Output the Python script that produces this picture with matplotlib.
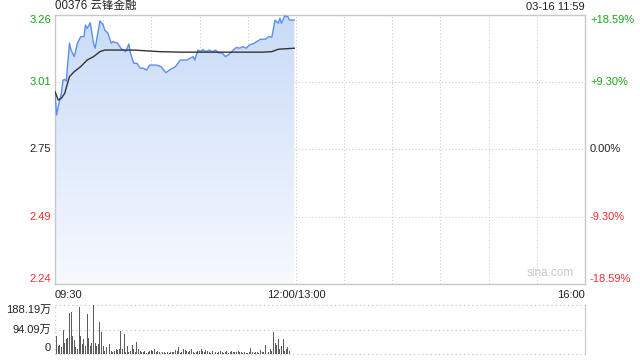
import matplotlib
matplotlib.use("Agg")
import matplotlib.pyplot as plt
import numpy as np
from matplotlib.colors import LinearSegmentedColormap

plt.rcParams['font.family'] = ['Liberation Sans', 'Noto Sans CJK SC', 'DejaVu Sans']

# ---------------- data ----------------
title = "00376 云锋金融"
stamp = "03-16 11:59"
prev_close = 2.75
pct_max = 0.1859

price_labels = ["2.24", "2.49", "2.75", "3.01", "3.26"]
pct_labels = ["-18.59%", "-9.30%", "0.00%", "+9.30%", "+18.59%"]

price_min = [0, 1, 2, 4, 5, 6, 7, 9, 10, 12, 14, 16, 18, 19, 20, 22, 24, 25, 27, 28,
             30, 31, 33, 35, 36, 39, 41, 44, 46, 47, 49, 51, 53, 55, 57, 59, 63, 66, 69, 72,
             75, 78, 82, 86, 87, 89, 91, 92, 94, 96, 98, 100, 102, 104, 106, 108, 111, 113, 115, 117,
             119, 121, 124, 128, 131, 133, 135, 137, 139, 140, 141, 143, 145, 146, 148, 149]
price_val = [2.970, 2.881, 2.913, 2.965, 3.014, 3.016, 3.010, 3.154, 3.128, 3.103, 3.154, 3.179, 3.179, 3.223, 3.210, 3.232, 3.154, 3.135, 3.204, 3.239,
             3.223, 3.204, 3.192, 3.154, 3.160, 3.154, 3.135, 3.122, 3.151, 3.116, 3.078, 3.078, 3.059, 3.059, 3.052, 3.071, 3.071, 3.065, 3.042, 3.055,
             3.065, 3.090, 3.090, 3.103, 3.090, 3.128, 3.122, 3.130, 3.122, 3.128, 3.122, 3.128, 3.116, 3.118, 3.103, 3.110, 3.128, 3.138, 3.135, 3.141,
             3.135, 3.147, 3.154, 3.169, 3.169, 3.179, 3.177, 3.242, 3.230, 3.249, 3.230, 3.257, 3.255, 3.242, 3.242, 3.242]

avg_min = [0, 2, 4, 6, 9, 12, 16, 20, 24, 28, 31, 42, 49, 65, 78, 103, 129, 135, 139, 149]
avg_val = [2.970, 2.938, 2.945, 2.963, 3.027, 3.046, 3.065, 3.090, 3.103, 3.122, 3.128, 3.128, 3.128, 3.122, 3.120, 3.120, 3.120, 3.122, 3.131, 3.135]

volume = [96.6, 69, 31, 35, 25, 91.6, 44, 59, 63, 157,
          160, 69, 54, 25, 21, 182, 69, 40, 56, 31,
          154, 63, 31, 44, 188, 44, 31, 38, 122, 84,
          31, 12.5, 27.6, 27.6, 38, 12.5, 6, 12.5, 21, 16,
          19, 88, 19, 75, 9, 31, 9, 12.5, 34, 19,
          6, 46, 19, 12.5, 9, 6, 10, 4, 6, 12.5,
          16, 10, 21, 6, 12.5, 6, 9, 6, 9, 4,
          6, 5, 8, 6,
          6, 15, 10, 25, 4, 6, 21, 16, 10, 6,
          12.5, 21, 6, 4, 6, 10, 12.5, 21, 12.5, 6,
          16, 12.5, 6, 5, 10, 15, 6, 4, 9, 12.5, 9,
          4, 6, 10, 3, 9, 12.5, 6, 9, 6, 12.5, 9,
          6, 4, 6, 4, 5, 6, 22.6, 6, 4, 6, 9, 4,
          16, 9, 6, 35, 9, 6, 19, 12.5, 84, 44,
          34, 56, 19, 31, 59, 12.5, 19, 27.6, 12.5]
vol_max = 188.19
vol_labels = ["0", "94.09万", "188.19万"]

x_labels = ["09:30", "12:00/13:00", "16:00"]
total_minutes = 330

# ---------------- figure ----------------
W, H = 640, 360
fig = plt.figure(figsize=(W / 100, H / 100), dpi=100)
fig.patch.set_facecolor('white')

def px_axes(l, t, r, b):
    return fig.add_axes([l / W, 1 - b / H, (r - l) / W, (b - t) / H])

ax = px_axes(55, 15, 585, 284)
axv = px_axes(55, 305, 585, 354)

pmax = prev_close * (1 + pct_max)
pmin = prev_close * (1 - pct_max)
levels = np.linspace(pmin, pmax, 5)

green = '#1aa51a'
red = '#f03030'
gridc = '#cfcfcf'
border = '#c8c8c8'
dot = (0, (1, 2))

ax.set_xlim(0, total_minutes)
ax.set_ylim(pmin, pmax)
for s in ax.spines.values():
    s.set_color(border)
    s.set_linewidth(1)
ax.set_xticks([])
ax.set_yticks([])
for m in range(30, total_minutes, 30):
    ax.axvline(m, color=gridc, lw=0.8, ls=dot, zorder=1)
for lv in levels[1:-1]:
    ax.axhline(lv, color=gridc, lw=0.8, ls=dot, zorder=1)

# gradient fill under price
poly = ax.fill_between(price_min, price_val, pmin, color='none', lw=0)
grad = np.linspace(0, 1, 256).reshape(-1, 1)
cmap = LinearSegmentedColormap.from_list('g', ['#f7faff', '#c9dbf7'])
im = ax.imshow(grad, cmap=cmap, aspect='auto', origin='lower',
               extent=[0, price_min[-1], pmin, pmax], zorder=2)
im.set_clip_path(poly.get_paths()[0], transform=ax.transData)
ax.set_xlim(0, total_minutes)
ax.set_ylim(pmin, pmax)

ax.plot(price_min, price_val, color='#5a8fef', lw=1.0, zorder=3)
ax.plot(avg_min, avg_val, color='#333333', lw=1.0, zorder=4)

fs = 8
for i, lv in enumerate(levels):
    c = green if i > 2 else (red if i < 2 else '#222222')
    va = 'center'
    if i == 4:
        va = 'top'
    if i == 0:
        va = 'bottom'
    ax.text(-4 / 530 * total_minutes, lv, price_labels[i], color=c, fontsize=fs,
            ha='right', va=va, transform=ax.transData)
    ax.text(total_minutes + 5 / 530 * total_minutes, lv, pct_labels[i], color=c, fontsize=fs,
            ha='left', va=va, transform=ax.transData)

ax.text(0, 1.012, title, transform=ax.transAxes, fontsize=8.3, ha='left', va='bottom', color='#222222')
ax.text(1, 1.012, stamp, transform=ax.transAxes, fontsize=fs, ha='right', va='bottom', color='#222222')
ax.text(0.935, 0.02, "sina.com", transform=ax.transAxes, fontsize=8.5, ha='center', va='bottom', color='#c8c8c8')

ax.text(0, -0.022, x_labels[0], transform=ax.transAxes, fontsize=fs, ha='left', va='top', color='#222222')
ax.text(150 / total_minutes, -0.022, x_labels[1], transform=ax.transAxes, fontsize=fs, ha='center', va='top', color='#222222')
ax.text(1, -0.022, x_labels[2], transform=ax.transAxes, fontsize=fs, ha='right', va='top', color='#222222')

# volume
axv.set_xlim(0, total_minutes)
axv.set_ylim(0, vol_max)
axv.set_xticks([])
axv.set_yticks([])
for k, s in axv.spines.items():
    s.set_visible(False)
axv.spines['right'].set_visible(True)
axv.spines['right'].set_color(border)
for lv in [0, vol_max / 2, vol_max]:
    axv.axhline(lv, color=gridc, lw=1.0, ls=dot, zorder=1, clip_on=False)
axv.axvline(0, color=gridc, lw=1.0, ls=dot, zorder=1)
axv.bar(np.arange(len(volume)), volume, width=0.6, color='#5c5c5c', zorder=3, align='center')

xl = -4 / 530 * total_minutes
axv.text(xl, vol_max, vol_labels[2], fontsize=fs, ha='right', va='top', color='#222222')
axv.text(xl, vol_max / 2, vol_labels[1], fontsize=fs, ha='right', va='center', color='#222222')
axv.text(xl, vol_max * 0.12, vol_labels[0], fontsize=fs, ha='right', va='center', color='#222222')

fig.savefig('out.png', dpi=100, facecolor='white')
